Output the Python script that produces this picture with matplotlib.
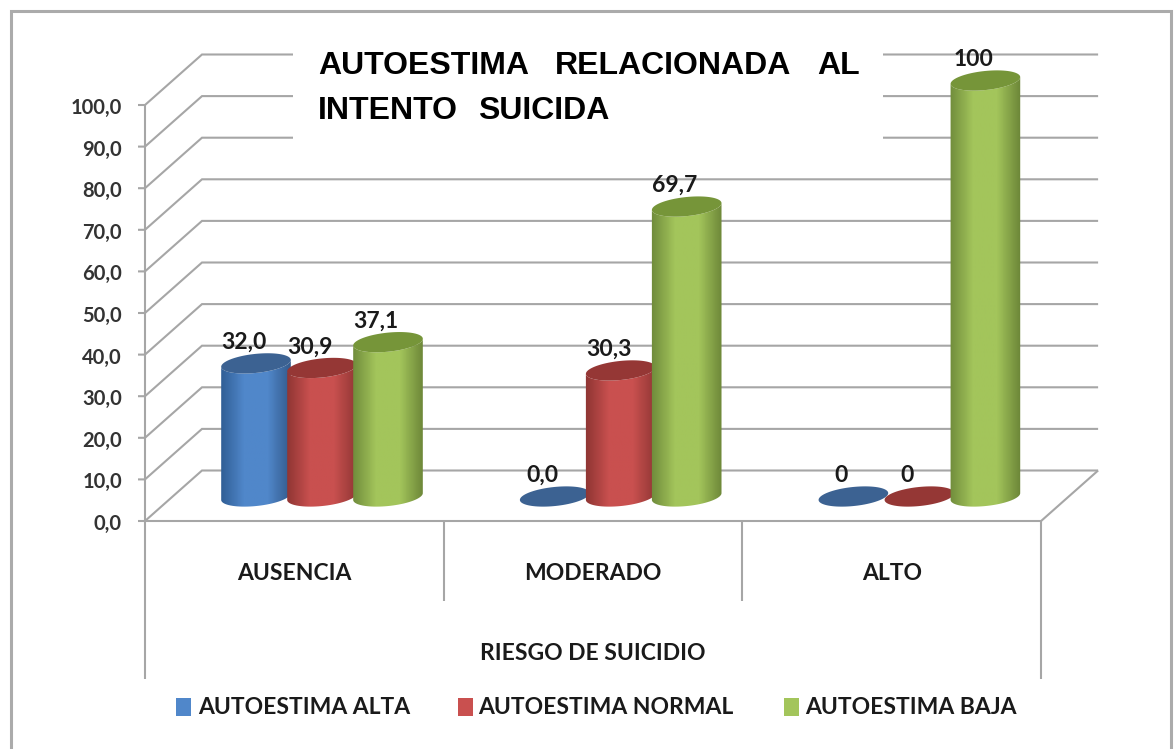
import numpy as np
import matplotlib
matplotlib.use("Agg")
import matplotlib.pyplot as plt
from matplotlib.colors import LinearSegmentedColormap
from matplotlib.patches import PathPatch, Polygon, Rectangle
from matplotlib.path import Path

# data
categories = ["AUSENCIA", "MODERADO", "ALTO"]
series_names = ["AUTOESTIMA ALTA", "AUTOESTIMA NORMAL", "AUTOESTIMA BAJA"]
alta = [32.0, 0.0, 0.0]
normal = [30.9, 30.3, 0.0]
baja = [37.1, 69.7, 100.0]
alta_labels = ["32,0", "0,0", "0"]
normal_labels = ["30,9", "30,3", "0"]
baja_labels = ["37,1", "69,7", "100"]
y_ticks = [0, 10, 20, 30, 40, 50, 60, 70, 80, 90, 100]
y_tick_labels = ["0,0", "10,0", "20,0", "30,0", "40,0", "50,0", "60,0", "70,0", "80,0", "90,0", "100,0"]
x_title = "RIESGO DE SUICIDIO"

W, H = 1175, 749
X0_PX, Y0_PX = 145, 521      # front-left corner of the floor
CAT_PX = 298.7               # width of one category
VAL_PX = 4.16                # pixels per unit on the value axis
GRID = "#a6a6a6"
TXT = "#1a1a1a"
FONT = "Lato"

fig = plt.figure(figsize=(W / 100, H / 100), dpi=100)
ax = fig.add_axes([0, 0, 1, 1])
xlim = (-X0_PX / CAT_PX, (W - X0_PX) / CAT_PX)
ylim = ((Y0_PX - H) / VAL_PX, Y0_PX / VAL_PX)
ax.axis("off")

# sizes below are worked out in pixels, then turned into axis units
DX = 57 / CAT_PX
DY = 50.5 / VAL_PX


def px_x(p):
    return (p - X0_PX) / CAT_PX


def px_y(p):
    return (Y0_PX - p) / VAL_PX


def line(xs, ys, lw=1.5, color=GRID, z=1):
    ax.plot(xs, ys, color=color, lw=lw, solid_capstyle="butt", solid_joinstyle="miter", zorder=z)


# outer frame of the picture
line([px_x(11), px_x(11), px_x(1171), px_x(1171)], [px_y(749), px_y(11), px_y(11), px_y(749)], lw=2.2, color="#ababab")

# gridlines: front edge, side wall, back wall
n_cat = len(categories)
for v in y_ticks:
    line([px_x(138), 0, DX, n_cat + DX], [v, v, v + DY, v + DY])
line([0, 0], [0, 100])
line([0, n_cat, n_cat + DX], [0, 0, DY])

# axis below the floor
line([0, 0], [0, px_y(679)])
line([n_cat, n_cat], [0, px_y(679)])
for i in range(1, n_cat):
    line([i, i], [0, px_y(601)])

# white patch behind the title
ax.add_patch(Rectangle((px_x(293), px_y(150)), px_x(883) - px_x(293), px_y(35) - px_y(150),
                       fc="white", ec="none", zorder=2))

colors = [("#2f5d94", "#5087ca", "#33598a", "#3c6292"),
          ("#8e3533", "#c9504f", "#8f3634", "#953735"),
          ("#6f8b3b", "#a3c55b", "#6c8638", "#769539")]
A_PX, B_PX = 35, 9.5
TILT = np.radians(6)
BASE_PX = 496.5              # centre of the bottom ellipse
SERIES_PX = [256, 322, 388]  # centres in the first group


def ellipse(cx_px, cy_px, t):
    ex = A_PX * np.cos(t) * np.cos(TILT) + B_PX * np.sin(t) * np.sin(TILT)
    ey = -A_PX * np.cos(t) * np.sin(TILT) + B_PX * np.sin(t) * np.cos(TILT)
    return px_x(cx_px + ex), px_y(cy_px + ey)


t_full = np.linspace(0, 2 * np.pi, 90)
for s, (values, labels) in enumerate(zip([alta, normal, baja], [alta_labels, normal_labels, baja_labels])):
    cmap = LinearSegmentedColormap.from_list("c", [colors[s][0], colors[s][1], colors[s][1], colors[s][2]])
    for c, (val, lab) in enumerate(zip(values, labels)):
        cx = SERIES_PX[s] + c * CAT_PX
        top_px = BASE_PX - val * VAL_PX
        z = 3 + s + 10 * c
        if val > 0:
            bx, by = ellipse(cx, BASE_PX, np.linspace(np.pi, 0, 40))  # front half of the bottom ellipse
            tx, ty = ellipse(cx, top_px, np.linspace(0, np.pi, 40))
            verts = np.column_stack([np.r_[bx, tx], np.r_[by, ty]])
            body = PathPatch(Path(np.r_[verts, verts[:1]], closed=True), transform=ax.transData, fc="none", ec="none")
            ax.add_patch(body)
            im = ax.imshow(np.linspace(0, 1, 64)[None, :], cmap=cmap, aspect="auto", zorder=z,
                           extent=[px_x(cx - A_PX - 1), px_x(cx + A_PX + 1), px_y(BASE_PX + 20), px_y(top_px - 20)])
            im.set_clip_path(body)
        ex, ey = ellipse(cx, top_px, t_full)
        ax.add_patch(Polygon(np.column_stack([ex, ey]), closed=True, fc=colors[s][3], ec="none", zorder=z + 0.1))
        ax.text(px_x(cx - 12), val + px_y(BASE_PX) + 21 / VAL_PX, lab, ha="center", va="center", fontsize=16.5,
                family=FONT, weight="bold", color=TXT, zorder=40)

# axis text
for v, lab in zip(y_ticks, y_tick_labels):
    ax.text(px_x(122), v - 3 / VAL_PX, lab, ha="right", va="center", fontsize=14.5, family=FONT, weight="bold",
            color="#333333")
for i, cat in enumerate(categories):
    ax.text(i + 0.5, px_y(574), cat, ha="center", va="center", fontsize=16.5, family=FONT, weight="bold", color=TXT)
ax.text(1.5, px_y(653), x_title, ha="center", va="center", fontsize=16.5, family=FONT, weight="bold", color=TXT)

# title, spaced out by word like the justified original
title_words = [("AUTOESTIMA", 318, 66), ("RELACIONADA", 555, 66), ("AL", 817, 66), ("INTENTO", 318, 111), ("SUICIDA", 478, 111)]
for word, x_px, y_px in title_words:
    ax.text(px_x(x_px), px_y(y_px), word, ha="left", va="center", fontsize=23, family="Liberation Sans",
            weight="bold", color="black", zorder=50)

# legend
legend_px = [(176, 198), (458, 478), (784, 805)]
for s, (box, txt) in enumerate(legend_px):
    ax.add_patch(Rectangle((px_x(box), px_y(716)), 15 / CAT_PX, 18 / VAL_PX, fc=colors[s][1], ec="none", zorder=5))
    ax.text(px_x(txt), px_y(708), series_names[s], ha="left", va="center", fontsize=16.5, family=FONT,
            weight="bold", color=TXT)

ax.set_xlim(*xlim)
ax.set_ylim(*ylim)
fig.savefig("out.png", dpi=100, facecolor="white")
